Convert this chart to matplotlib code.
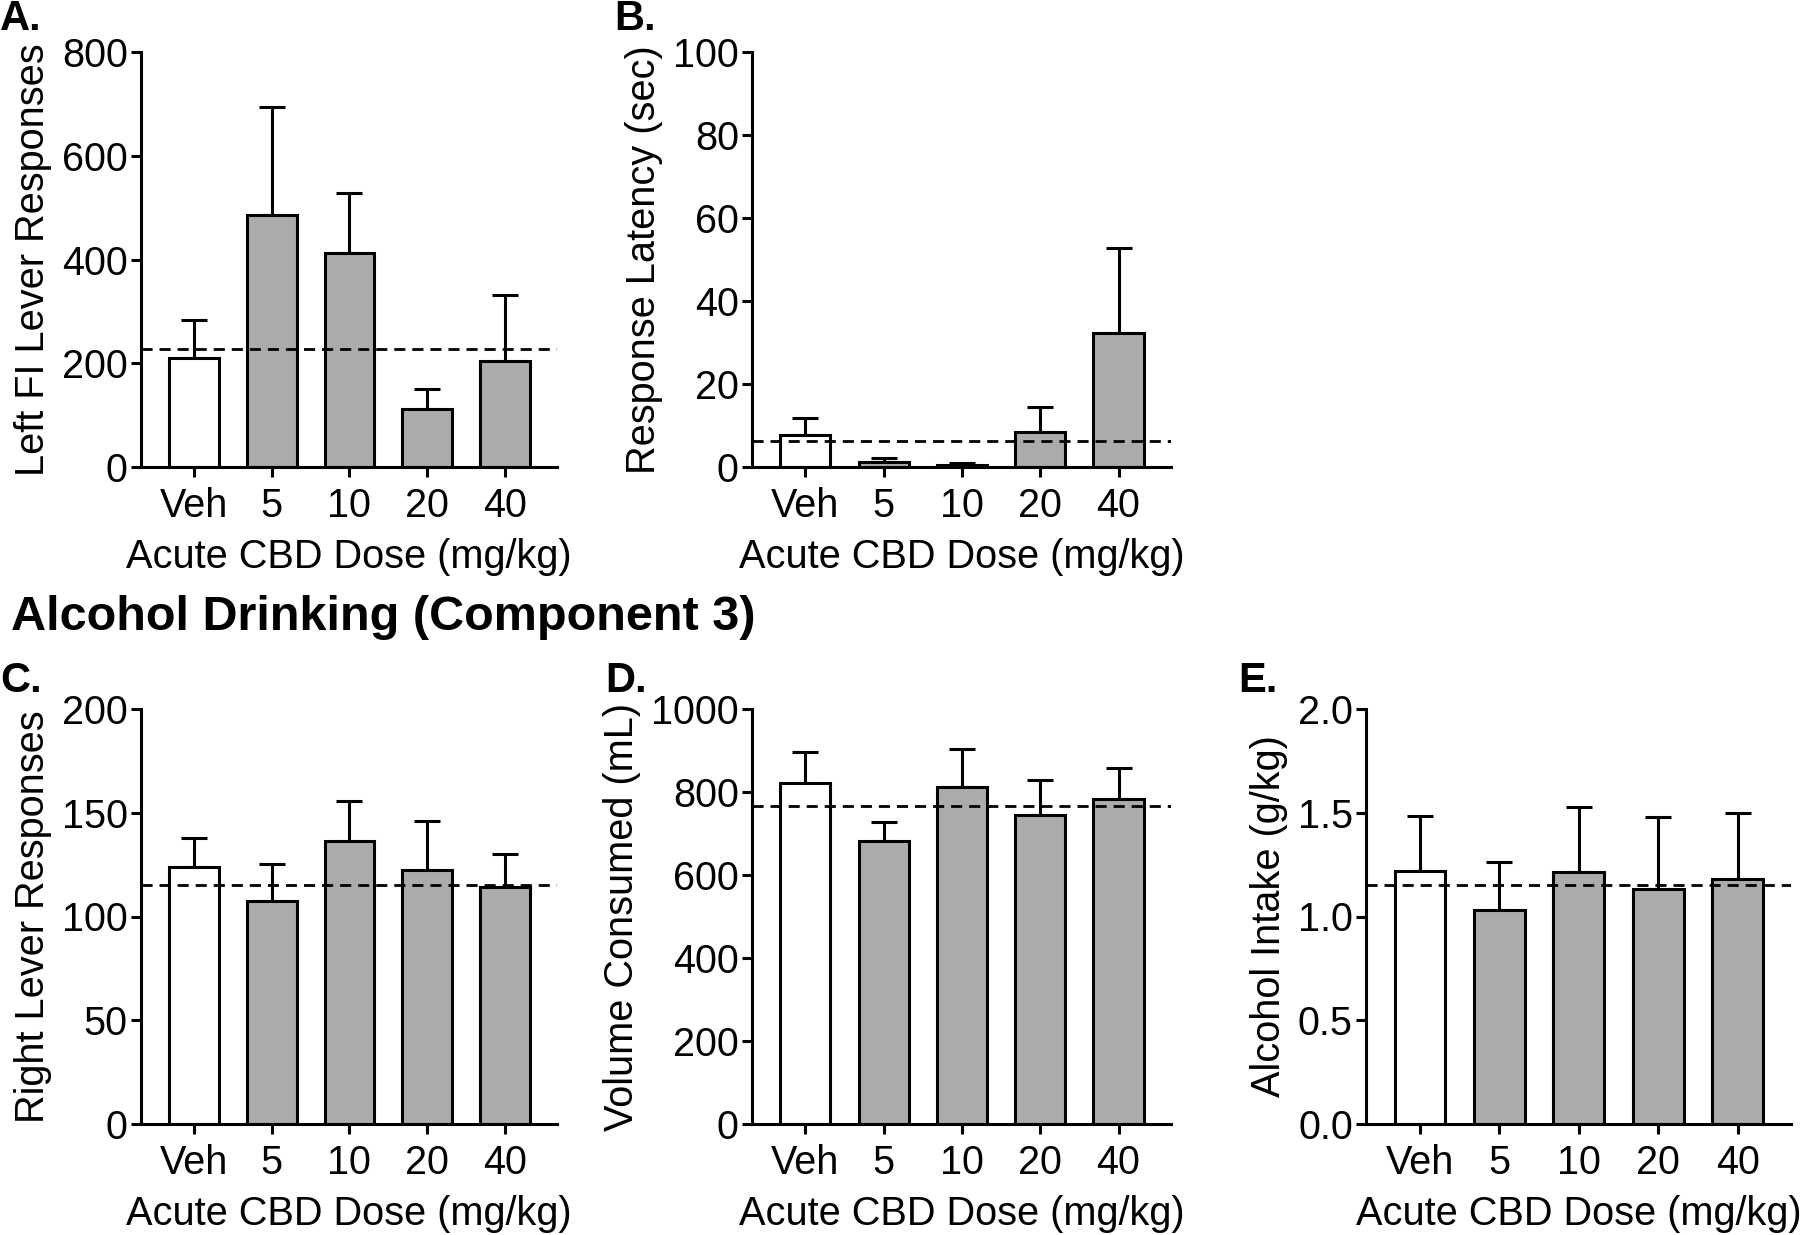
import numpy as np
import matplotlib
matplotlib.use('Agg')
import matplotlib.pyplot as plt

plt.rcParams['font.family'] = ['Liberation Sans', 'DejaVu Sans']

# Datos
dosis = ['Veh', '5', '10', '20', '40']

left_fi_mean = [210, 485, 413, 111, 205]
left_fi_sem = [74, 209, 115, 39, 126]
left_fi_ref = 228

latency_mean = [7.6, 1.25, 0.45, 8.5, 32.2]
latency_sem = [4.3, 0.85, 0.45, 5.9, 20.6]
latency_ref = 6.2

right_mean = [124, 107.3, 136.2, 122.4, 114.4]
right_sem = [13.8, 17.9, 19.7, 23.4, 15.8]
right_ref = 115.4

volume_mean = [821, 683, 813, 745, 782]
volume_sem = [75, 45, 90, 83, 75]
volume_ref = 767

intake_mean = [1.218, 1.031, 1.213, 1.131, 1.179]
intake_sem = [0.268, 0.233, 0.317, 0.349, 0.322]
intake_ref = 1.150

W, H = 1800, 1235
fig = plt.figure(figsize=(W / 100, H / 100), dpi=100)


def caja(l, r, t, b):
    # pixeles -> fraccion de figura
    return [l / W, 1 - b / H, (r - l) / W, (b - t) / H]


def panel(pos, mean, sem, ref, ylabel, yticks, fmt=None):
    ax = fig.add_axes(pos)
    x = np.arange(len(dosis))
    colores = ['white'] + ['#ababab'] * 4
    ax.errorbar(x, mean, yerr=[np.zeros(len(x)), sem], fmt='none', ecolor='black',
                elinewidth=2.2, capsize=9.5, capthick=2.2, zorder=1)
    ax.bar(x, mean, width=0.64, color=colores, edgecolor='black', linewidth=2.2, zorder=2)
    ax.axhline(ref, color='black', linewidth=2.0, dashes=(4, 2.5), zorder=3)
    ax.set_xlim(-0.68, 4.67)
    ax.set_ylim(yticks[0], yticks[-1])
    ax.set_xticks(x)
    ax.set_xticklabels(dosis)
    ax.set_yticks(yticks)
    if fmt:
        ax.set_yticklabels([fmt.format(v) for v in yticks])
    ax.spines['top'].set_visible(False)
    ax.spines['right'].set_visible(False)
    for s in ['left', 'bottom']:
        ax.spines[s].set_linewidth(2.2)
    ax.tick_params(axis='both', labelsize=28.5, width=2.2, length=7.5, direction='out')
    ax.tick_params(axis='y', pad=2)
    ax.tick_params(axis='x', pad=7)
    ax.set_ylabel(ylabel, fontsize=28.6, labelpad=7)
    ax.set_xlabel('Acute CBD Dose (mg/kg)', fontsize=28.6, labelpad=9.5)
    return ax


panel(caja(141, 557, 52, 467), left_fi_mean, left_fi_sem, left_fi_ref,
      'Left FI Lever Responses', [0, 200, 400, 600, 800])
panel(caja(752, 1171, 52, 467), latency_mean, latency_sem, latency_ref,
      'Response Latency (sec)', [0, 20, 40, 60, 80, 100])
panel(caja(141, 557, 709, 1124), right_mean, right_sem, right_ref,
      'Right Lever Responses', [0, 50, 100, 150, 200])
panel(caja(752, 1171, 709, 1124), volume_mean, volume_sem, volume_ref,
      'Volume Consumed (mL)', [0, 200, 400, 600, 800, 1000])
panel(caja(1366, 1791, 709, 1124), intake_mean, intake_sem, intake_ref,
      'Alcohol Intake (g/kg)', [0.0, 0.5, 1.0, 1.5, 2.0], fmt='{:.1f}')

# Letras de panel y titulo
letras = [('A.', 0, 19), ('B.', 614, 19), ('C.', 0, 681), ('D.', 605, 681), ('E.', 1238, 681)]
for txt, px, py in letras:
    fig.text(px / W, 1 - py / H, txt, fontsize=30, fontweight='bold', ha='left', va='center')

fig.text(11 / W, 1 - 617 / H, 'Alcohol Drinking (Component 3)', fontsize=35,
         fontweight='bold', ha='left', va='center')

plt.savefig('out.png', dpi=100)
